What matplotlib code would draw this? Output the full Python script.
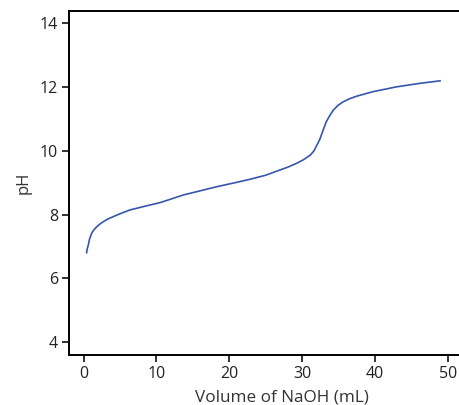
import matplotlib
matplotlib.use("Agg")
import matplotlib.pyplot as plt

# Titration curve
volume_ml = [0.42, 0.5, 0.65, 0.8, 1.11, 1.4, 1.8, 2.2, 2.7, 3.3, 4.07, 5.0,
             6.36, 8.66, 10.5, 13.7, 16.0, 18.3, 20.5, 22.8, 25.0, 26.9, 28.0,
             29.2, 30.2, 31.1, 31.6, 32.0, 32.4, 32.7, 33.0, 33.3, 33.8,
             34.25, 34.9, 35.6, 36.5, 37.5, 39.7, 42.9, 46.1, 48.9]
ph = [6.81, 6.93, 7.05, 7.22, 7.42, 7.52, 7.62, 7.70, 7.78, 7.86, 7.94, 8.03,
      8.15, 8.28, 8.38, 8.62, 8.75, 8.88, 8.99, 9.11, 9.24, 9.40, 9.49,
      9.61, 9.73, 9.87, 10.00, 10.18, 10.36, 10.55, 10.74, 10.92, 11.12,
      11.28, 11.43, 11.54, 11.64, 11.72, 11.86, 12.01, 12.12, 12.20]
x_ticks = [0, 10, 20, 30, 40, 50]
y_ticks = [4, 6, 8, 10, 12, 14]

plt.rcParams["font.family"] = ["Open Sans", "DejaVu Sans"]

fig = plt.figure(figsize=(4.59, 4.05), dpi=100)
ax = fig.add_axes([0.1503, 0.1235, 0.8497, 0.8493])

ax.plot(volume_ml, ph, color="#3556ad", lw=1.2, solid_joinstyle="round")

ax.set_xlim(-2.0, 51.5)
ax.set_ylim(3.6, 14.39)
ax.set_xticks(x_ticks)
ax.set_yticks(y_ticks)

ax.spines["right"].set_visible(False)
for s in ("left", "bottom", "top"):
    ax.spines[s].set_linewidth(1.4)
ax.tick_params(direction="out", length=5, width=1.3, labelsize=11.5,
               colors="#222222", pad=3)

ax.set_xlabel("Volume of NaOH (mL)", fontsize=12.3, color="#333333")
ax.xaxis.set_label_coords(0.546, -0.1)
ax.set_ylabel("pH", fontsize=12, color="#333333")
ax.yaxis.set_label_coords(-0.097, 0.5)

fig.savefig("out.png", dpi=100)
